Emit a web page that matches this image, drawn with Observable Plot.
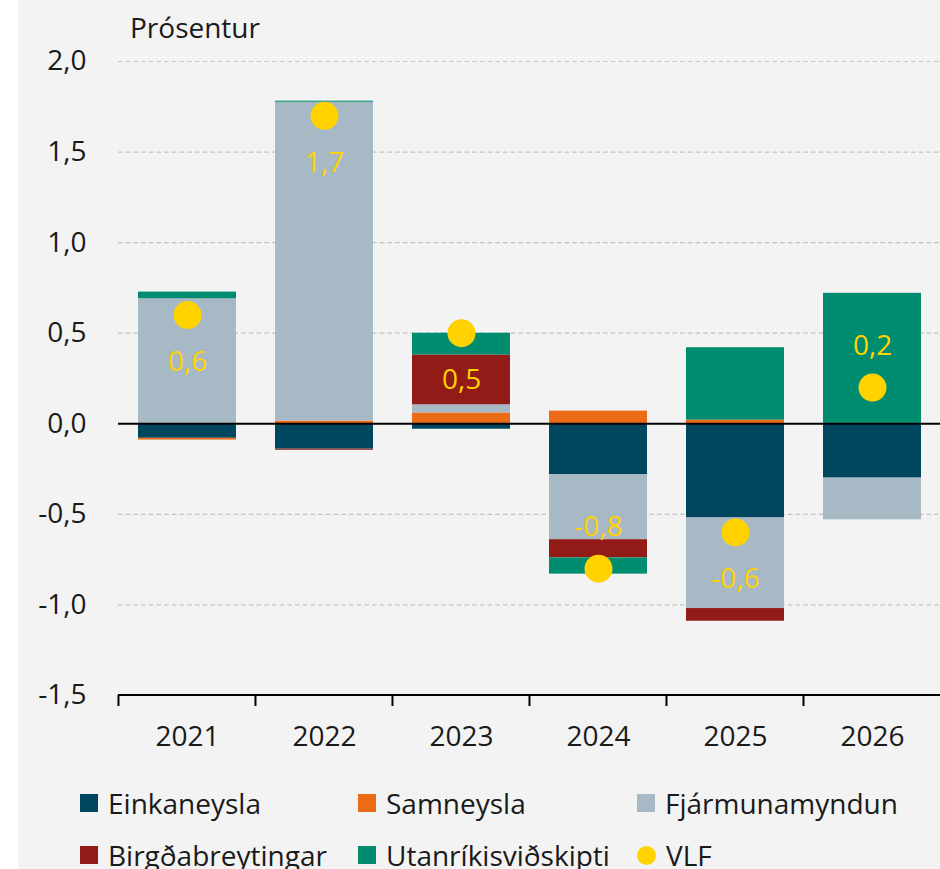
<!DOCTYPE html>
<html>
<head>
<meta charset="utf-8">
<script src="https://cdn.jsdelivr.net/npm/d3@7"></script>
<script src="https://cdn.jsdelivr.net/npm/@observablehq/plot@0.6"></script>
<style>
  html, body { margin: 0; padding: 0; background: #ffffff; }
  #wrap { position: relative; margin-left: 18px; width: 922px; height: 869px; background: #f3f3f3; overflow: hidden; font-family: "Open Sans", sans-serif; color: #1a1a1a; }
  #ylab { position: absolute; left: 112px; top: 12px; font-size: 28px; line-height: 30px; }
  #chart { position: absolute; left: 0; top: 0; }
  #legend { position: absolute; left: 62px; top: 788px; display: grid; grid-template-columns: 278px 279px 280px; grid-auto-rows: 52px; font-size: 28px; line-height: 30px; }
  .item { display: flex; align-items: center; height: 30px; white-space: nowrap; }
  .sw { width: 18px; height: 18px; margin-right: 10px; flex: none; }
  .sw.circle { border-radius: 50%; width: 19px; height: 19px; }
</style>
</head>
<body>
<div id="wrap">
  <div id="chart"></div>
  <div id="ylab">Prósentur</div>
  <div id="legend"></div>
</div>
<script>
// ---- Data ----
const years = ["2021", "2022", "2023", "2024", "2025", "2026"];
const names = ["Einkaneysla", "Samneysla", "Fjármunamyndun", "Birgðabreytingar", "Utanríkisviðskipti"];
const einkaneysla      = [-0.08, -0.14, -0.03, -0.28, -0.52, -0.30];
const samneysla        = [-0.01,  0.015, 0.06,  0.07,  0.02,  0.00];
const fjarmunamyndun   = [ 0.69,  1.76,  0.045, -0.36, -0.50, -0.23];
const birgdabreytingar = [ 0.00, -0.006, 0.275, -0.10, -0.07,  0.00];
const utanrikis        = [ 0.037, 0.006, 0.12, -0.09,  0.40,  0.72];
const vlf              = [ 0.6,   1.7,   0.5,  -0.8,  -0.6,   0.2];
const yDomain = [-1.5, 2];
const yTicks = [-1.5, -1, -0.5, 0, 0.5, 1, 1.5, 2];
const seriesColors = ["#00465f", "#ec6b16", "#a7b9c4", "#921a17", "#008d6f"];
const vlfColor = "#ffd200";
const vlfName = "VLF";
// Labels drawn above the dot (others below)
const labelAbove = ["2024", "2026"];

const PAD_INNER = 0.285;
const seriesValues = [einkaneysla, samneysla, fjarmunamyndun, birgdabreytingar, utanrikis];

const rows = [];
years.forEach((yr, i) => {
  names.forEach((n, j) => rows.push({year: yr, series: n, value: seriesValues[j][i]}));
});
const vlfRows = years.map((yr, i) => ({year: yr, value: vlf[i]}));
const fmt = v => v.toFixed(1).replace(".", ",");

const FONT = "Open Sans, sans-serif";
const FS = 28;

function xAxisLine(index, scales, values, dims) {
  const {x, y} = scales;
  const g = d3.create("svg:g");
  const yy = y(yDomain[0]);
  const step = x(years[1]) - x(years[0]);
  const off = step * PAD_INNER / 2;
  g.append("line")
    .attr("x1", dims.marginLeft).attr("x2", dims.width - dims.marginRight)
    .attr("y1", yy).attr("y2", yy)
    .attr("stroke", "#000").attr("stroke-width", 2);
  years.forEach(yr => {
    const bx = x(yr) - off;
    g.append("line")
      .attr("x1", bx).attr("x2", bx)
      .attr("y1", yy).attr("y2", yy + 11)
      .attr("stroke", "#000").attr("stroke-width", 2);
  });
  return g.node();
}

const chart = Plot.plot({
  width: 922,
  height: 780,
  marginLeft: 100,
  marginRight: 0,
  marginTop: 61,
  marginBottom: 85,
  style: {background: "transparent", fontFamily: FONT, fontSize: FS + "px", color: "#1a1a1a"},
  x: {type: "band", domain: years, paddingInner: PAD_INNER, paddingOuter: PAD_INNER / 2, axis: null},
  y: {domain: yDomain, axis: null},
  color: {domain: names, range: seriesColors},
  marks: [
    Plot.ruleY(yTicks.filter(t => t !== 0 && t !== yDomain[0]), {stroke: "#c4c4c4", strokeWidth: 1.2, strokeDasharray: "4.5,3.2"}),
    Plot.axisY({ticks: yTicks, tickFormat: fmt, tickSize: 0, tickPadding: 32, fontSize: FS, fill: "#1a1a1a", label: null, fontFamily: FONT}),
    Plot.axisX({tickSize: 0, tickPadding: 31, fontSize: FS, fill: "#1a1a1a", label: null, fontFamily: FONT}),
    Plot.barY(rows, {x: "year", y: "value", fill: "series"}),
    Plot.ruleY([0], {stroke: "#000", strokeWidth: 2}),
    xAxisLine,
    Plot.dot(vlfRows, {x: "year", y: "value", r: 14, fill: vlfColor}),
    Plot.text(vlfRows.filter(d => !labelAbove.includes(d.year)), {x: "year", y: "value", text: d => fmt(d.value), dy: 47, fill: vlfColor, fontSize: FS, fontFamily: FONT}),
    Plot.text(vlfRows.filter(d => labelAbove.includes(d.year)), {x: "year", y: "value", text: d => fmt(d.value), dy: -42, fill: vlfColor, fontSize: FS, fontFamily: FONT})
  ]
});
document.getElementById("chart").appendChild(chart);

// Legend
const legendItems = [
  {name: names[0], color: seriesColors[0], circle: false},
  {name: names[1], color: seriesColors[1], circle: false},
  {name: names[2], color: seriesColors[2], circle: false},
  {name: names[3], color: seriesColors[3], circle: false},
  {name: names[4], color: seriesColors[4], circle: false},
  {name: vlfName, color: vlfColor, circle: true}
];
const legend = document.getElementById("legend");
legendItems.forEach(it => {
  const d = document.createElement("div");
  d.className = "item";
  const s = document.createElement("span");
  s.className = "sw" + (it.circle ? " circle" : "");
  s.style.background = it.color;
  const t = document.createElement("span");
  t.textContent = it.name;
  d.appendChild(s); d.appendChild(t);
  legend.appendChild(d);
});
</script>
</body>
</html>
